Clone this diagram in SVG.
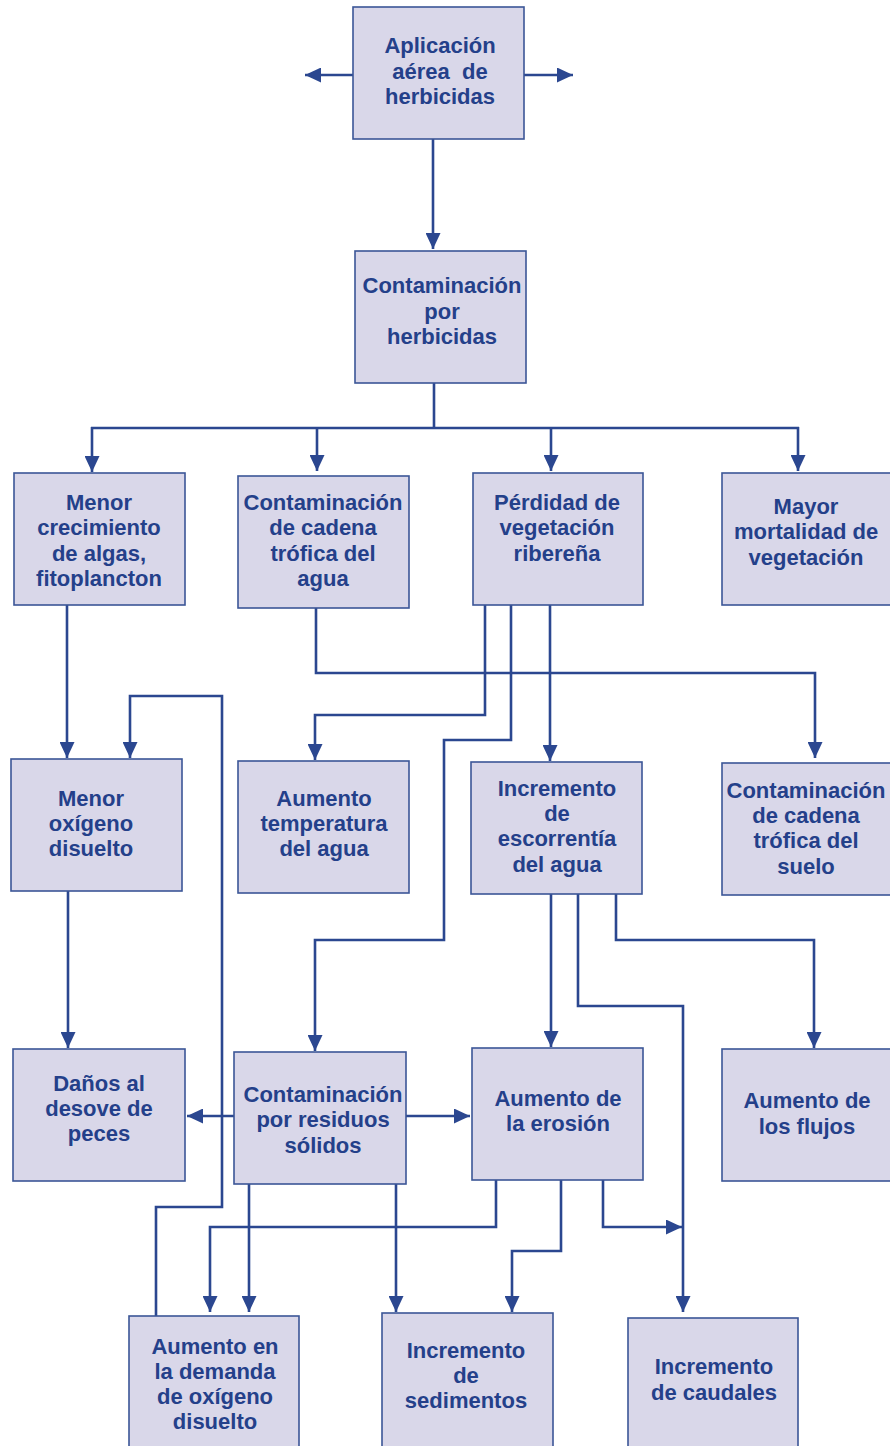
<svg xmlns="http://www.w3.org/2000/svg" width="890" height="1446" viewBox="0 0 890 1446">
<defs>
<style>
.box{fill:#d9d7e9;stroke:#3b5697;stroke-width:1.6}
.t{font-family:"Liberation Sans",Arial,sans-serif;font-weight:bold;font-size:22px;fill:#24408a;text-anchor:middle;white-space:pre}
.c{fill:none;stroke:#2b4790;stroke-width:2.6;stroke-linejoin:miter}
.a{marker-end:url(#ah)}
</style>
<marker id="ah" viewBox="0 0 16 15" refX="16" refY="7.5" markerWidth="16" markerHeight="15" markerUnits="userSpaceOnUse" orient="auto">
<path d="M0,0 L16,7.5 L0,15 z" fill="#2b4790"/>
</marker>
</defs>
<rect width="890" height="1446" fill="#ffffff"/>

<g id="connectors">
<path class="c a" d="M353,75 H305"/>
<path class="c a" d="M524,75 H573"/>
<path class="c a" d="M433,139 V249"/>
<path class="c" d="M434,383 V428 M91,428 H799"/>
<path class="c a" d="M92,427 V472"/>
<path class="c a" d="M317,427 V471"/>
<path class="c a" d="M551,427 V471"/>
<path class="c a" d="M798,427 V471"/>
<path class="c a" d="M67,605 V758"/>
<path class="c a" d="M316,608 V673 H815 V758"/>
<path class="c a" d="M485,605 V715 H315 V760"/>
<path class="c a" d="M511,605 V740 H444 V940 H315 V1051"/>
<path class="c a" d="M550,605 V761"/>
<path class="c a" d="M156,1316 V1207 H222 V696 H130 V758"/>
<path class="c a" d="M68,891 V1048"/>
<path class="c a" d="M551,894 V1047"/>
<path class="c a" d="M578,894 V1006 H683 V1312"/>
<path class="c a" d="M616,894 V940 H814 V1048"/>
<path class="c a" d="M234,1116 H187"/>
<path class="c a" d="M406,1116 H470"/>
<path class="c a" d="M249,1184 V1312"/>
<path class="c a" d="M396,1184 V1312"/>
<path class="c a" d="M496,1180 V1227 H210 V1312"/>
<path class="c a" d="M561,1180 V1251 H512 V1312"/>
<path class="c a" d="M603,1180 V1227 H682"/>
</g>

<g id="n1"><rect class="box" x="353" y="7" width="171" height="132"/>
<text class="t" x="440" y="53">Aplicación</text><text class="t" x="440" y="79" xml:space="preserve">aérea  de</text><text class="t" x="440" y="104">herbicidas</text></g>

<g id="n2"><rect class="box" x="355" y="251" width="171" height="132"/>
<text class="t" x="442" y="293">Contaminación</text><text class="t" x="442" y="319">por</text><text class="t" x="442" y="344">herbicidas</text></g>

<g id="n3"><rect class="box" x="14" y="473" width="171" height="132"/>
<text class="t" x="99" y="510">Menor</text><text class="t" x="99" y="535">crecimiento</text><text class="t" x="99" y="561">de algas,</text><text class="t" x="99" y="586">fitoplancton</text></g>

<g id="n4"><rect class="box" x="238" y="476" width="171" height="132"/>
<text class="t" x="323" y="510">Contaminación</text><text class="t" x="323" y="535">de cadena</text><text class="t" x="323" y="561">trófica del</text><text class="t" x="323" y="586">agua</text></g>

<g id="n5"><rect class="box" x="473" y="473" width="170" height="132"/>
<text class="t" x="557" y="510">Pérdidad de</text><text class="t" x="557" y="535">vegetación</text><text class="t" x="557" y="561">ribereña</text></g>

<g id="n6"><rect class="box" x="722" y="473" width="172" height="132"/>
<text class="t" x="806" y="514">Mayor</text><text class="t" x="806" y="539">mortalidad de</text><text class="t" x="806" y="565">vegetación</text></g>

<g id="n7"><rect class="box" x="11" y="759" width="171" height="132"/>
<text class="t" x="91" y="806">Menor</text><text class="t" x="91" y="831">oxígeno</text><text class="t" x="91" y="856">disuelto</text></g>

<g id="n8"><rect class="box" x="238" y="761" width="171" height="132"/>
<text class="t" x="324" y="806">Aumento</text><text class="t" x="324" y="831">temperatura</text><text class="t" x="324" y="856">del agua</text></g>

<g id="n9"><rect class="box" x="471" y="762" width="171" height="132"/>
<text class="t" x="557" y="796">Incremento</text><text class="t" x="557" y="821">de</text><text class="t" x="557" y="846">escorrentía</text><text class="t" x="557" y="872">del agua</text></g>

<g id="n10"><rect class="box" x="722" y="763" width="172" height="132"/>
<text class="t" x="806" y="798">Contaminación</text><text class="t" x="806" y="823">de cadena</text><text class="t" x="806" y="848">trófica del</text><text class="t" x="806" y="874">suelo</text></g>

<g id="n11"><rect class="box" x="13" y="1049" width="172" height="132"/>
<text class="t" x="99" y="1091">Daños al</text><text class="t" x="99" y="1116">desove de</text><text class="t" x="99" y="1141">peces</text></g>

<g id="n12"><rect class="box" x="234" y="1052" width="172" height="132"/>
<text class="t" x="323" y="1102">Contaminación</text><text class="t" x="323" y="1127">por residuos</text><text class="t" x="323" y="1153">sólidos</text></g>

<g id="n13"><rect class="box" x="472" y="1048" width="171" height="132"/>
<text class="t" x="558" y="1106">Aumento de</text><text class="t" x="558" y="1131">la erosión</text></g>

<g id="n14"><rect class="box" x="722" y="1049" width="172" height="132"/>
<text class="t" x="807" y="1108">Aumento de</text><text class="t" x="807" y="1134">los flujos</text></g>

<g id="n15"><rect class="box" x="129" y="1316" width="170" height="136"/>
<text class="t" x="215" y="1354">Aumento en</text><text class="t" x="215" y="1379">la demanda</text><text class="t" x="215" y="1404">de oxígeno</text><text class="t" x="215" y="1429">disuelto</text></g>

<g id="n16"><rect class="box" x="382" y="1313" width="171" height="139"/>
<text class="t" x="466" y="1358">Incremento</text><text class="t" x="466" y="1383">de</text><text class="t" x="466" y="1408">sedimentos</text></g>

<g id="n17"><rect class="box" x="628" y="1318" width="170" height="134"/>
<text class="t" x="714" y="1374">Incremento</text><text class="t" x="714" y="1400">de caudales</text></g>
</svg>
